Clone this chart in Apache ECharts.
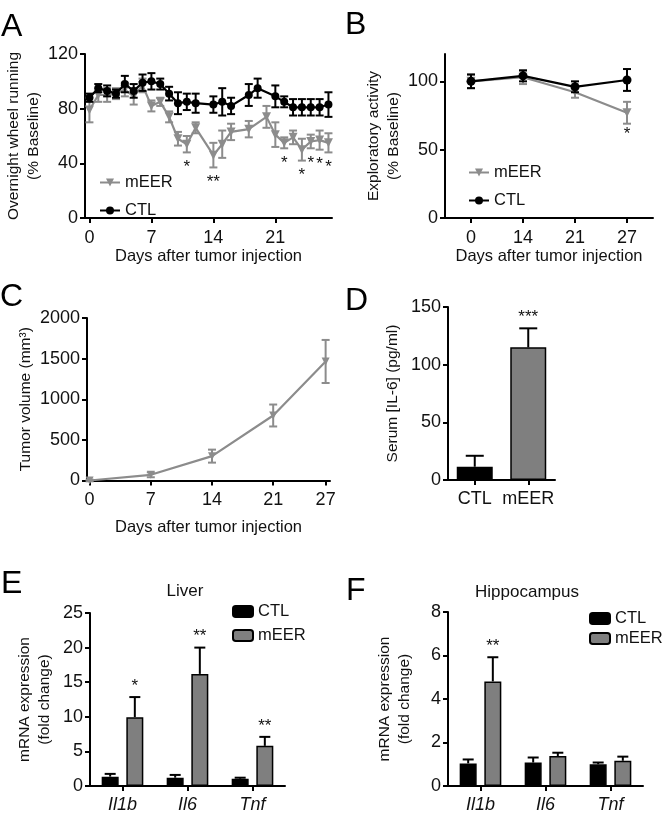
<!DOCTYPE html>
<html><head><meta charset="utf-8">
<script src="https://cdn.jsdelivr.net/npm/echarts@6/dist/echarts.min.js"></script>
<style>html,body{margin:0;padding:0;background:#fff}#c{width:662px;height:814px}</style>
</head><body><div id="c"></div>
<script>
// ---------- DATA ----------
// Panel A: overnight wheel running (% baseline)
const daysA_CTL  = [0,1,2,3,4,5,6,7,8,9,10,11,12,14,15,16,18,19,21,22,23,24,25,26,27];
const wheelCTL   = [88,95,93,91,98,93,99,100,98,91,84,85,84,83,85,82,90,95,89,85,81,81,81,81,83];
const wheelCTLErr= [3,3,4,3,6,5,6,6,4,5,8,6,7,6,10,6,8,7,8,4,6,6,6,6,9];
const daysA_mEER = [0,1,2,3,4,5,6,7,8,9,10,11,12,14,15,16,18,20,21,22,23,24,25,26,27];
const wheelMEER  = [79,90,90,91,94,89,97,82,85,74,58,54,66,46,54,63,65,74,61,55,59,50,56,57,55];
const wheelMEERErr=[9,5,5,4,5,6,5,4,3,4,5,6,4,9,10,6,6,8,9,4,5,8,5,7,7];
const starsA_days  = [11,14,22,24,25,26,27];
const starsA_labels= ['*','**','*','*','*','*','*'];
const ticksA_x = [0,7,14,21];
const ticksA_y = [0,40,80,120];

// Panel B: exploratory activity
const daysB = ['0','14','21','27'];
const exploCTL = [100,104,96,101];
const exploCTLErr = [5,4,4,8];
const exploMEER = [100,103,92,77];
const exploMEERErr = [5,5,4,8];
const starsB_idx = [3];
const starsB_labels = ['*'];
const ticksB_y = [0,50,100];

// Panel C: tumor volume
const daysC = [0,7,14,21,27];
const tumorVol = [0,70,300,800,1465];
const tumorErr = [10,30,80,135,265];
const ticksC_x = [0,7,14,21,27];

// Panel D: serum IL-6
const groupsD = ['CTL','mEER'];
const il6 = [11.5,115];
const il6Err = [9.5,16.5];
const starsD_labels = ['','***'];

// Panel E: liver mRNA
const genes = ['Il1b','Il6','Tnf'];
const liverCTL = [1.35,1.2,1.05];
const liverCTLErr = [0.4,0.4,0.15];
const liverMEER = [9.95,16.2,5.8];
const liverMEERErr = [2.9,3.8,1.3];
const starsE_labels = ['*','**','**'];

// Panel F: hippocampus mRNA
const hippoCTL = [1.04,1.08,1.0];
const hippoCTLErr = [0.18,0.23,0.08];
const hippoMEER = [4.81,1.38,1.16];
const hippoMEERErr = [1.11,0.15,0.19];
const starsF_labels = ['**','',''];

// ---------- STYLE ----------
const FONT = 'Liberation Sans, Arial, Helvetica, sans-serif';
const INK = '#111';
const GRAY = '#8c8c8c';
const BARGRAY = '#7f7f7f';
const TICK = 18, TITLE = 16.5, YTITLE = 15.5;

const chart = echarts.init(document.getElementById('c'), null, {renderer:'canvas'});

function errSeries(xi, xs, means, errs, o) {
  return {
    type:'custom', xAxisIndex:xi, yAxisIndex:xi, silent:true, z:o.z||2,
    data: xs.map((x,i)=>[x, means[i], errs[i]]),
    renderItem(params, api){
      const x = api.value(0), m = api.value(1), e = api.value(2);
      const top = api.coord([x, o.up===false ? m : m+e]);
      const bot = api.coord([x, o.down===false ? m : m-e]);
      const cx = top[0] + (o.offset||0), hw = o.cap/2;
      const style = {stroke:o.color, lineWidth:o.lw||2};
      const ch = [{type:'line', shape:{x1:cx,y1:top[1],x2:cx,y2:bot[1]}, style}];
      if (o.up!==false) ch.push({type:'line', shape:{x1:cx-hw,y1:top[1],x2:cx+hw,y2:top[1]}, style});
      if (o.down!==false) ch.push({type:'line', shape:{x1:cx-hw,y1:bot[1],x2:cx+hw,y2:bot[1]}, style});
      return {type:'group', children:ch};
    }
  };
}
function starSeries(xi, xs, anchors, labels, o) {
  return {
    type:'custom', xAxisIndex:xi, yAxisIndex:xi, silent:true, z:5,
    data: xs.map((x,i)=>[x, anchors[i]]),
    renderItem(params, api){
      const p = api.coord([api.value(0), api.value(1)]);
      return {type:'text', x:p[0]+(o.offset||0), y:p[1]+o.dy,
        style:{text:labels[params.dataIndex], fill:INK, fontSize:17, fontFamily:FONT, align:'center', verticalAlign:'middle'}};
    }
  };
}
function axisBase(gi){
  return {
    gridIndex:gi,
    axisLine:{show:true, onZero:false, lineStyle:{color:'#000', width:2}},
    axisTick:{show:true, length:5, lineStyle:{color:'#000', width:2}},
    axisLabel:{fontSize:TICK, color:INK, fontFamily:FONT, margin:7},
    splitLine:{show:false},
    nameTextStyle:{fontSize:YTITLE, color:INK, fontFamily:FONT, lineHeight:20}
  };
}
function valAxis(gi, min, max, interval, custom, extra){
  const a = axisBase(gi);
  Object.assign(a, {type:'value', min, max, interval});
  a.axisLabel.formatter = v => String(v);
  if (custom){ a.axisLabel.customValues = custom; a.axisTick.customValues = custom; }
  return Object.assign(a, extra||{});
}
function xTitle(gap){
  return {name:'Days after tumor injection', nameLocation:'middle', nameGap:gap,
    nameTextStyle:{fontSize:TITLE, color:INK, fontFamily:FONT}};
}
function catAxis(gi, data, extra){
  const a = axisBase(gi);
  Object.assign(a, {type:'category', data, boundaryGap:true});
  a.axisTick.alignWithLabel = true;
  a.axisTick.interval = 0;
  a.axisLabel.interval = 0;
  a.axisLabel.margin = 10;
  return Object.assign(a, extra||{});
}
function setX(a, extra){ a.axisLabel.margin = 11; return Object.assign(a, extra||{}); }

// star anchors
const anchA = starsA_days.map(d=>{const i=daysA_mEER.indexOf(d); return wheelMEER[i]-wheelMEERErr[i];});
const anchB = starsB_idx.map(i=>exploMEER[i]-exploMEERErr[i]);
const anchD = il6.map((v,i)=>v+il6Err[i]);
const anchE = liverMEER.map((v,i)=>v+liverMEERErr[i]);
const anchF = hippoMEER.map((v,i)=>v+hippoMEERErr[i]);

const BW = 17, BGAP = '45%', BOFF = (17+17*0.45)/2;
const catIdx3 = [0,1,2];

const xE = catAxis(4, genes); xE.axisLabel.fontStyle = 'italic';
const xF = catAxis(5, genes); xF.axisLabel.fontStyle = 'italic';

const option = {
  animation:false,
  backgroundColor:'#fff',
  textStyle:{fontFamily:FONT},
  grid:[
    {left:85, top:54, width:247, height:164},
    {left:445, top:54, width:208, height:164},
    {left:87, top:318, width:243, height:162.5},
    {left:448, top:307, width:107, height:173},
    {left:90, top:613, width:195, height:176},
    {left:448, top:612, width:195, height:177}
  ],
  xAxis:[
    setX(valAxis(0, -0.5, 27.4, 7, ticksA_x), xTitle(24)),
    setX(catAxis(1, daysB), xTitle(24)),
    setX(valAxis(2, -0.3, 27.5, 7, ticksC_x), xTitle(38)),
    catAxis(3, groupsD),
    xE,
    xF
  ],
  yAxis:[
    valAxis(0, 0, 120, 40, ticksA_y, {name:'Overnight wheel running\n(% Baseline)', nameLocation:'middle', nameGap:32}),
    valAxis(1, 0, 120, 50, ticksB_y, {name:'Exploratory activity\n(% Baseline)', nameLocation:'middle', nameGap:25}),
    valAxis(2, 0, 2000, 500, null, {name:'Tumor volume (mm\u00B3)', nameLocation:'middle', nameGap:51}),
    valAxis(3, 0, 150, 50, null, {name:'Serum [IL-6] (pg/ml)', nameLocation:'middle', nameGap:45}),
    valAxis(4, 0, 25, 5, null, {name:'mRNA expression\n(fold change)', nameLocation:'middle', nameGap:35}),
    valAxis(5, 0, 8, 2, null, {name:'mRNA expression\n(fold change)', nameLocation:'middle', nameGap:33})
  ],
  legend:[
    {data:['mEER','CTL'], orient:'vertical', left:94, top:169, itemWidth:20, itemHeight:10, itemGap:11, itemStyle:{}, selectedMode:false,
     textStyle:{fontSize:TITLE, color:INK, fontFamily:FONT}},
    {data:['mEER','CTL'], orient:'vertical', left:463, top:159, itemWidth:20, itemHeight:10, itemGap:11, selectedMode:false,
     textStyle:{fontSize:TITLE, color:INK, fontFamily:FONT}},
    {data:['CTL ','mEER '], orient:'vertical', left:227, top:598, itemWidth:20, itemHeight:11, itemGap:7, selectedMode:false,
     formatter:n=>n.trim(), textStyle:{fontSize:TITLE, color:INK, fontFamily:FONT}},
    {data:['CTL ','mEER '], orient:'vertical', left:584, top:605, itemWidth:20, itemHeight:11, itemGap:3, selectedMode:false,
     formatter:n=>n.trim(), textStyle:{fontSize:TITLE, color:INK, fontFamily:FONT}}
  ],
  graphic:[
    {type:'text', left:1, top:11, style:{text:'A', fontSize:32, fontFamily:FONT, fill:'#000'}},
    {type:'text', left:345, top:9, style:{text:'B', fontSize:32, fontFamily:FONT, fill:'#000'}},
    {type:'text', left:0, top:281, style:{text:'C', fontSize:32, fontFamily:FONT, fill:'#000'}},
    {type:'text', left:345, top:285, style:{text:'D', fontSize:32, fontFamily:FONT, fill:'#000'}},
    {type:'text', left:1, top:568, style:{text:'E', fontSize:32, fontFamily:FONT, fill:'#000'}},
    {type:'text', left:346, top:575, style:{text:'F', fontSize:32, fontFamily:FONT, fill:'#000'}},
    {type:'text', x:185, y:591, style:{text:'Liver', fontSize:17, fontFamily:FONT, fill:INK, align:'center', verticalAlign:'middle'}},
    {type:'text', x:527, y:592, style:{text:'Hippocampus', fontSize:17, fontFamily:FONT, fill:INK, align:'center', verticalAlign:'middle'}}
  ],
  series:[
    // A
    {type:'line', name:'mEER', xAxisIndex:0, yAxisIndex:0, z:3, data:daysA_mEER.map((d,i)=>[d,wheelMEER[i]]),
     symbol:'triangle', symbolRotate:180, symbolSize:9, lineStyle:{color:GRAY, width:2.2}, itemStyle:{color:GRAY}},
    {type:'line', name:'CTL', xAxisIndex:0, yAxisIndex:0, z:4, data:daysA_CTL.map((d,i)=>[d,wheelCTL[i]]),
     symbol:'circle', symbolSize:8, lineStyle:{color:'#000', width:2.2}, itemStyle:{color:'#000'}},
    errSeries(0, daysA_mEER, wheelMEER, wheelMEERErr, {color:GRAY, cap:8, z:3}),
    errSeries(0, daysA_CTL, wheelCTL, wheelCTLErr, {color:'#000', cap:8, z:4}),
    starSeries(0, starsA_days, anchA, starsA_labels, {dy:15}),
    // B
    {type:'line', name:'mEER', xAxisIndex:1, yAxisIndex:1, z:3, data:exploMEER,
     symbol:'triangle', symbolRotate:180, symbolSize:9, lineStyle:{color:GRAY, width:2.2}, itemStyle:{color:GRAY}},
    {type:'line', name:'CTL', xAxisIndex:1, yAxisIndex:1, z:4, data:exploCTL,
     symbol:'circle', symbolSize:9, lineStyle:{color:'#000', width:2.2}, itemStyle:{color:'#000'}},
    errSeries(1, [0,1,2,3], exploMEER, exploMEERErr, {color:GRAY, cap:8, z:3}),
    errSeries(1, [0,1,2,3], exploCTL, exploCTLErr, {color:'#000', cap:8, z:4}),
    starSeries(1, starsB_idx, anchB, starsB_labels, {dy:11}),
    // C
    {type:'line', name:'tumor', xAxisIndex:2, yAxisIndex:2, z:3, data:daysC.map((d,i)=>[d,tumorVol[i]]),
     symbol:'triangle', symbolRotate:180, symbolSize:8, lineStyle:{color:GRAY, width:2.2}, itemStyle:{color:GRAY}},
    errSeries(2, daysC, tumorVol, tumorErr, {color:GRAY, cap:8, z:3}),
    // D
    {type:'bar', name:'il6', xAxisIndex:3, yAxisIndex:3, barWidth:36, z:3,
     data:il6.map((v,i)=>({value:v, itemStyle:{color:i===0?'#000':BARGRAY, borderColor:'#000', borderWidth:1.5}}))},
    errSeries(3, [0,1], il6, il6Err, {color:'#000', cap:18, down:false, z:2}),
    starSeries(3, [0,1], anchD, starsD_labels, {dy:-11}),
    // E
    {type:'bar', name:'CTL ', xAxisIndex:4, yAxisIndex:4, barWidth:BW, barGap:BGAP, z:3, data:liverCTL,
     itemStyle:{color:'#000', borderColor:'#000', borderWidth:1.5}},
    {type:'bar', name:'mEER ', xAxisIndex:4, yAxisIndex:4, barWidth:BW, barGap:BGAP, z:3, data:liverMEER,
     itemStyle:{color:BARGRAY, borderColor:'#000', borderWidth:1.5}},
    errSeries(4, catIdx3, liverCTL, liverCTLErr, {color:'#000', cap:11, down:false, offset:-BOFF, z:2}),
    errSeries(4, catIdx3, liverMEER, liverMEERErr, {color:'#000', cap:11, down:false, offset:BOFF, z:2}),
    starSeries(4, catIdx3, anchE, starsE_labels, {dy:-11, offset:BOFF}),
    // F
    {type:'bar', name:'CTL ', xAxisIndex:5, yAxisIndex:5, barWidth:BW, barGap:BGAP, z:3, data:hippoCTL,
     itemStyle:{color:'#000', borderColor:'#000', borderWidth:1.5}},
    {type:'bar', name:'mEER ', xAxisIndex:5, yAxisIndex:5, barWidth:BW, barGap:BGAP, z:3, data:hippoMEER,
     itemStyle:{color:BARGRAY, borderColor:'#000', borderWidth:1.5}},
    errSeries(5, catIdx3, hippoCTL, hippoCTLErr, {color:'#000', cap:11, down:false, offset:-BOFF, z:2}),
    errSeries(5, catIdx3, hippoMEER, hippoMEERErr, {color:'#000', cap:11, down:false, offset:BOFF, z:2}),
    starSeries(5, catIdx3, anchF, starsF_labels, {dy:-11, offset:BOFF})
  ]
};
chart.setOption(option);
</script></body></html>
